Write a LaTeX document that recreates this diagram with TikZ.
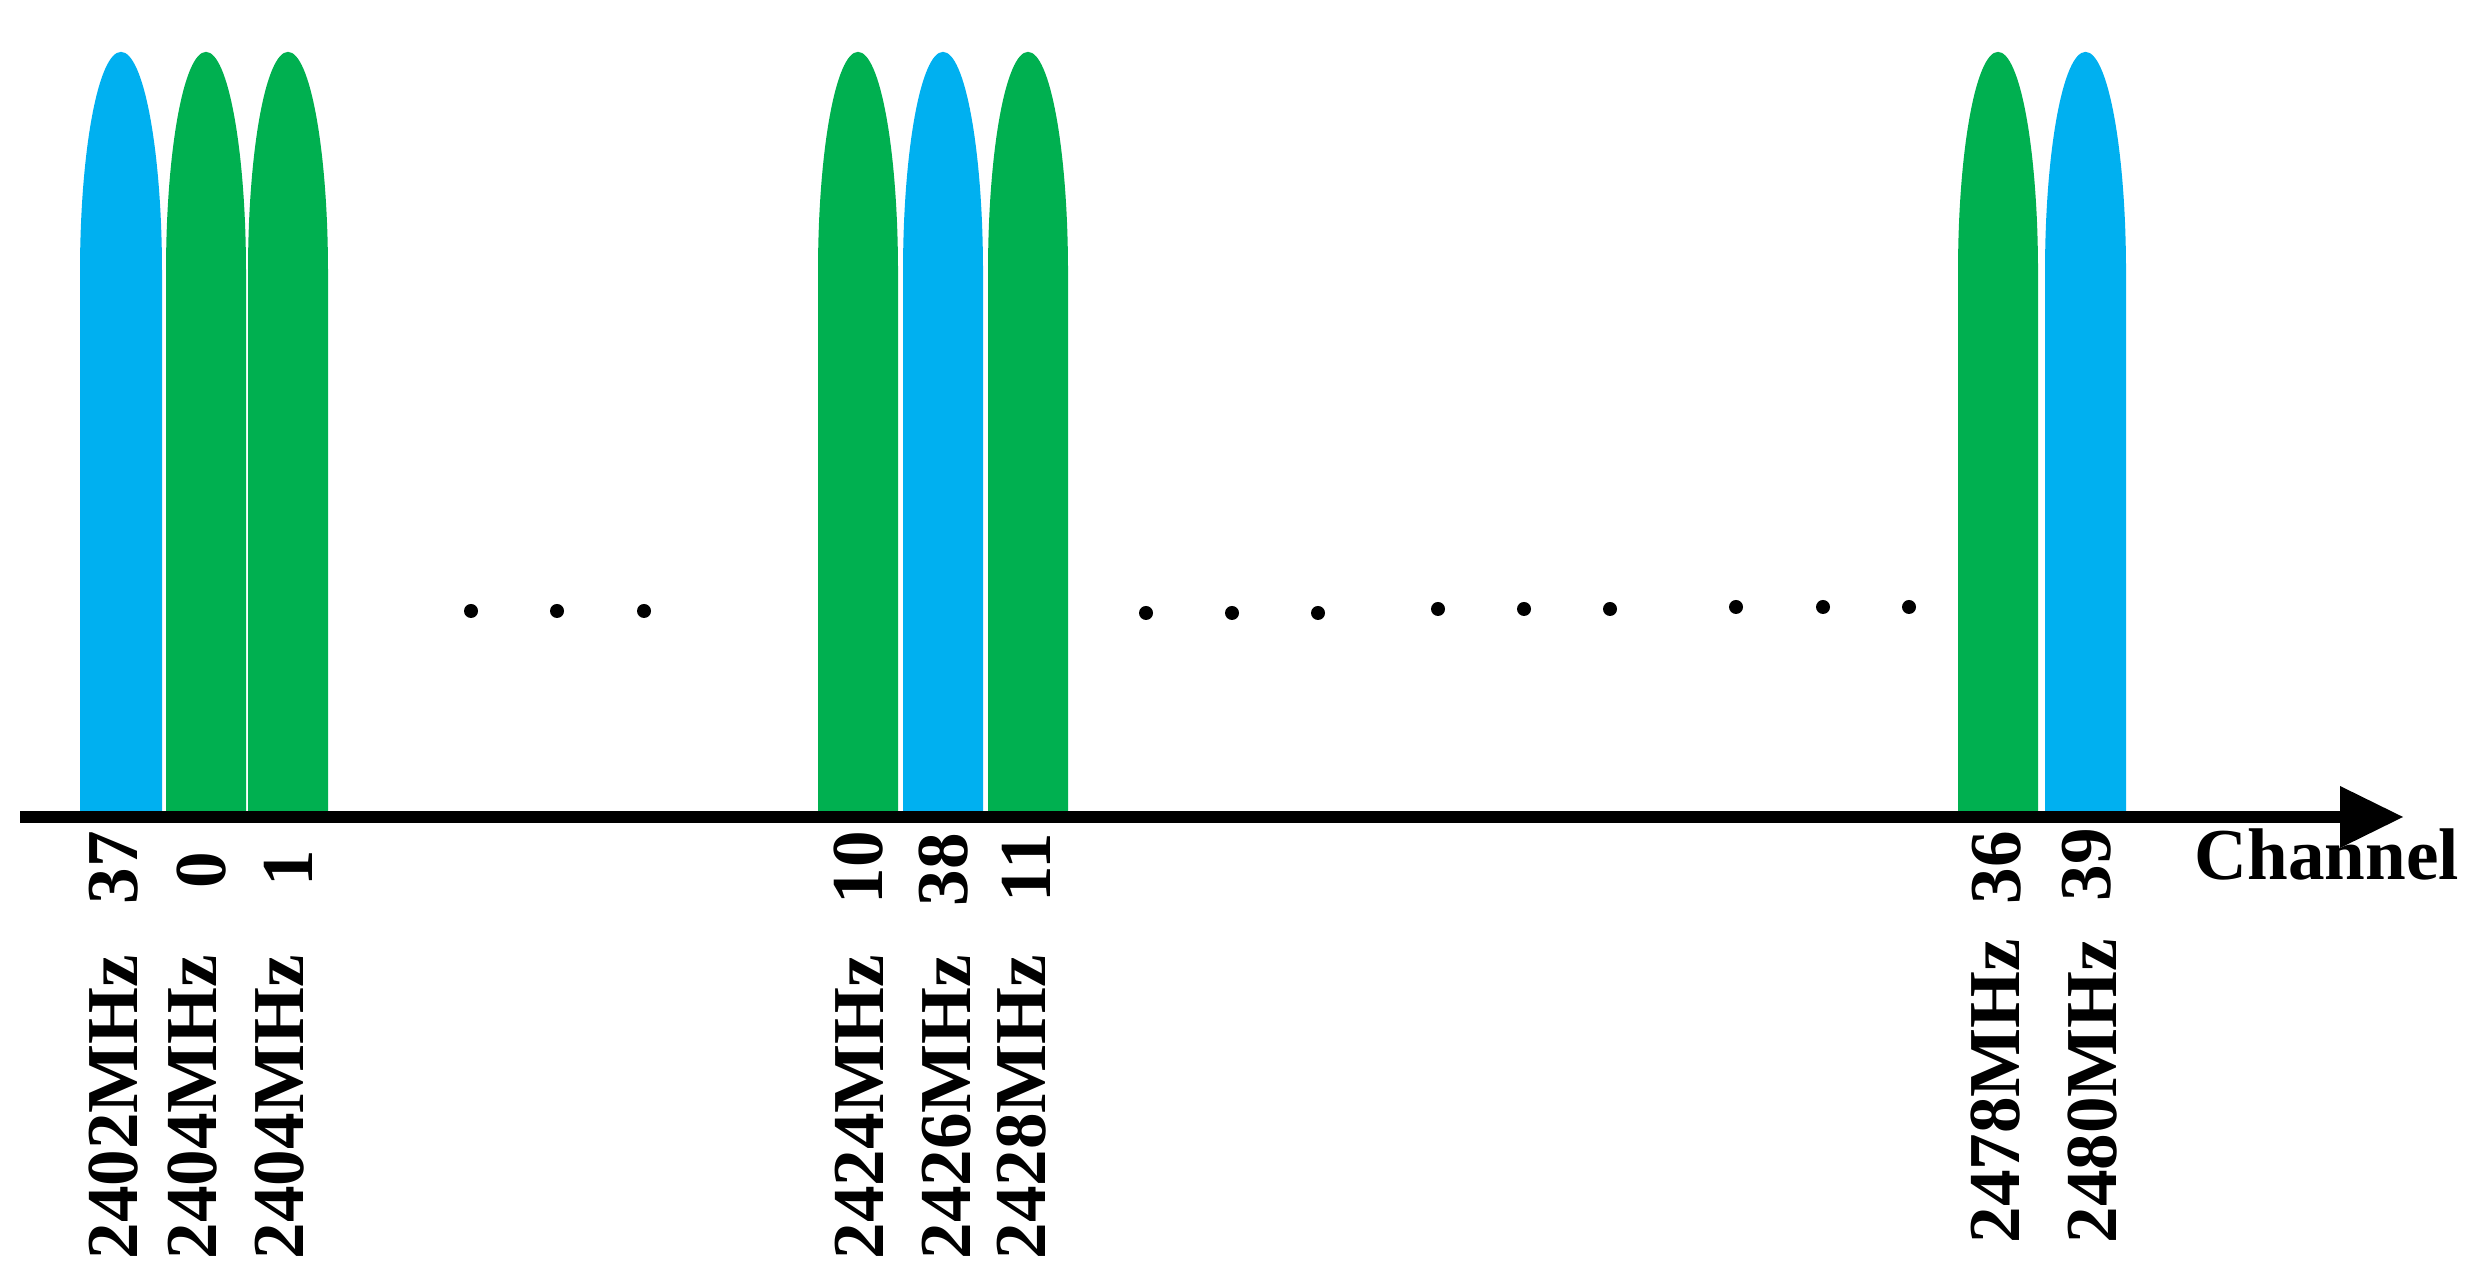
\documentclass[tikz,border=0pt]{standalone}
\usepackage{fontspec}
\setmainfont{Liberation Serif}
\definecolor{lobeblue}{RGB}{0,176,240}
\definecolor{lobegreen}{RGB}{0,176,80}
\begin{document}
\begin{tikzpicture}[x=0.01cm,y=0.01cm,
  lbl/.style={font=\bfseries\fontsize{20.8pt}{24pt}\selectfont, inner sep=0pt, rotate=90, anchor=center},
  chlbl/.style={font=\bfseries\fontsize{20.8pt}{24pt}\selectfont, inner sep=0pt},
  dotmark/.style={fill=black}]
\useasboundingbox (0,0) rectangle (2482,1288);
% lobes: #1 colour, #2 left x, #3 right x
\newcommand{\lobe}[3]{%
  \pgfmathsetmacro{\rr}{(#3-#2)/2*0.01}%
  \fill[#1] (#2,471) -- (#2,1016) arc[start angle=180,end angle=0,x radius=\rr cm,y radius=2.2cm] -- (#3,471) -- cycle;}
\lobe{lobeblue}{80}{162}
\lobe{lobegreen}{166}{246}
\lobe{lobegreen}{248}{328}
\lobe{lobegreen}{818}{898}
\lobe{lobeblue}{903}{983}
\lobe{lobegreen}{988}{1068}
\lobe{lobegreen}{1958}{2038}
\lobe{lobeblue}{2045}{2126}
% axis
\coordinate (axstart) at (20,471);
\coordinate (axend) at (2342,471);
\coordinate (tip) at (2403,471);
\draw[line width=0.12cm] (axstart) -- (axend);
\fill (2340,502) -- (tip) -- (2340,440) -- cycle;
\node[chlbl, anchor=base west] (chan) at (2194,408) {Channel};
% dots
\foreach \dx/\dy in {471/677,557/677,644/677,1146/675,1232/675,1318/675,1438/679,1524/679,1610/679,1736/681,1823/681,1909/681}
  \fill[dotmark] (\dx,\dy) circle[radius=0.07cm];
% channel numbers
\node[lbl] (n37) at (114,420) {37};
\node[lbl] (n0) at (202,418) {0};
\node[lbl] (n1) at (288,420) {1};
\node[lbl] (n10) at (859,420) {10};
\node[lbl] (n38) at (944,418) {38};
\node[lbl] (n11) at (1026,420) {11};
\node[lbl] (n36) at (1997,420) {36};
\node[lbl] (n39) at (2087,423) {39};
% frequencies
\node[lbl] (f37) at (113.5,181) {2402MHz};
\node[lbl] (f0) at (192.5,181) {2404MHz};
\node[lbl] (f1) at (279.5,181) {2404MHz};
\node[lbl] (f10) at (859,181) {2424MHz};
\node[lbl] (f38) at (947,181) {2426MHz};
\node[lbl] (f11) at (1022,181) {2428MHz};
\node[lbl] (f36) at (1996,197) {2478MHz};
\node[lbl] (f39) at (2093,197) {2480MHz};
\end{tikzpicture}
\end{document}
